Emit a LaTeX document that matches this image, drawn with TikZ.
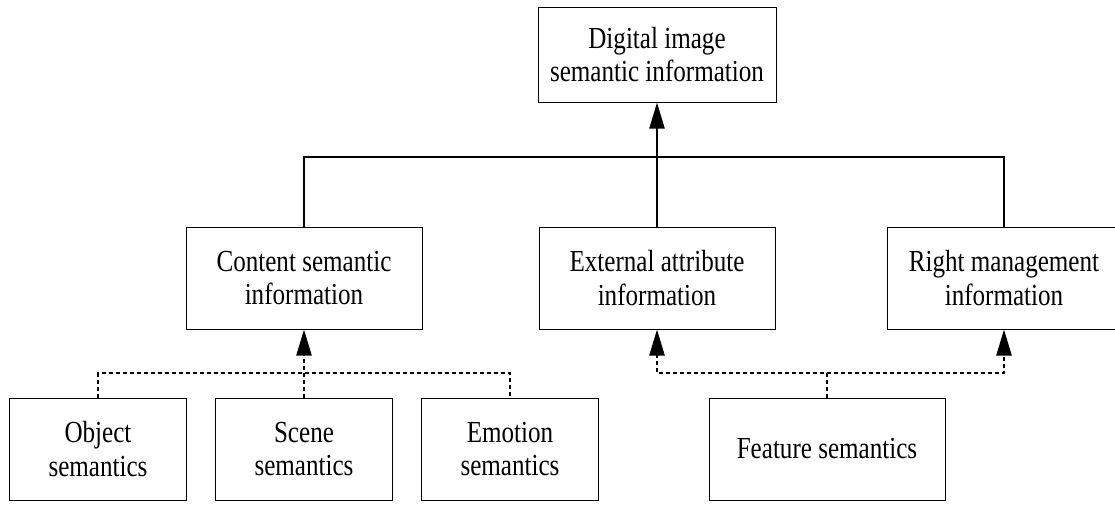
\documentclass[tikz,border=0pt]{standalone}
\usepackage{fontspec}
\setmainfont{Liberation Serif}[FakeStretch=0.82]
\usetikzlibrary{arrows.meta}

\begin{document}
\begin{tikzpicture}[x=0.5pt,y=-0.5pt,>={Triangle[length=13pt,width=7.5pt]},
  blk/.style={draw,line width=0.5pt,inner sep=0pt,align=center,
    minimum width=#1,minimum height=51pt,
    font=\fontsize{15.3}{16.7}\selectfont},
  link/.style={line width=1.1pt},
  dlink/.style={line width=1.2pt,dash pattern=on 2pt off 1.5pt}]
  \useasboundingbox (0,0) rectangle (1115,504);

  % top level
  \node[blk=119pt,minimum height=47.5pt] (top) at (657,54.5) {Digital image\\semantic information};

  % second level
  \node[blk=118pt] (cont) at (304,278) {Content semantic\\information};
  \node[blk=118pt] (ext) at (657,278) {External attribute\\information};
  \node[blk=117pt] (right) at (1004,278) {Right management\\information};

  % third level
  \node[blk=88.5pt] (obj) at (98,449) {Object\\semantics};
  \node[blk=88.5pt] (scene) at (304,449) {Scene\\semantics};
  \node[blk=88.5pt] (emo) at (510,449) {Emotion\\semantics};
  \node[blk=118pt] (feat) at (827,449) {Feature semantics};

  % solid bus to the top
  \coordinate (bus) at (657,157);
  \draw[link] (cont.north) |- (bus) -| (right.north);
  \draw[link,->] (ext.north) -- (top.south);

  % dashed buses
  \coordinate (lowbus) at (304,373);
  \draw[dlink] (obj.north) |- (lowbus) -| (emo.north);
  \draw[dlink,->] (scene.north) -- (cont.south);

  \coordinate (fbus) at (827,373);
  \draw[dlink,->] (feat.north) -- (fbus) -| (ext.south);
  \draw[dlink,->] (fbus) -| (right.south);
\end{tikzpicture}
\end{document}
